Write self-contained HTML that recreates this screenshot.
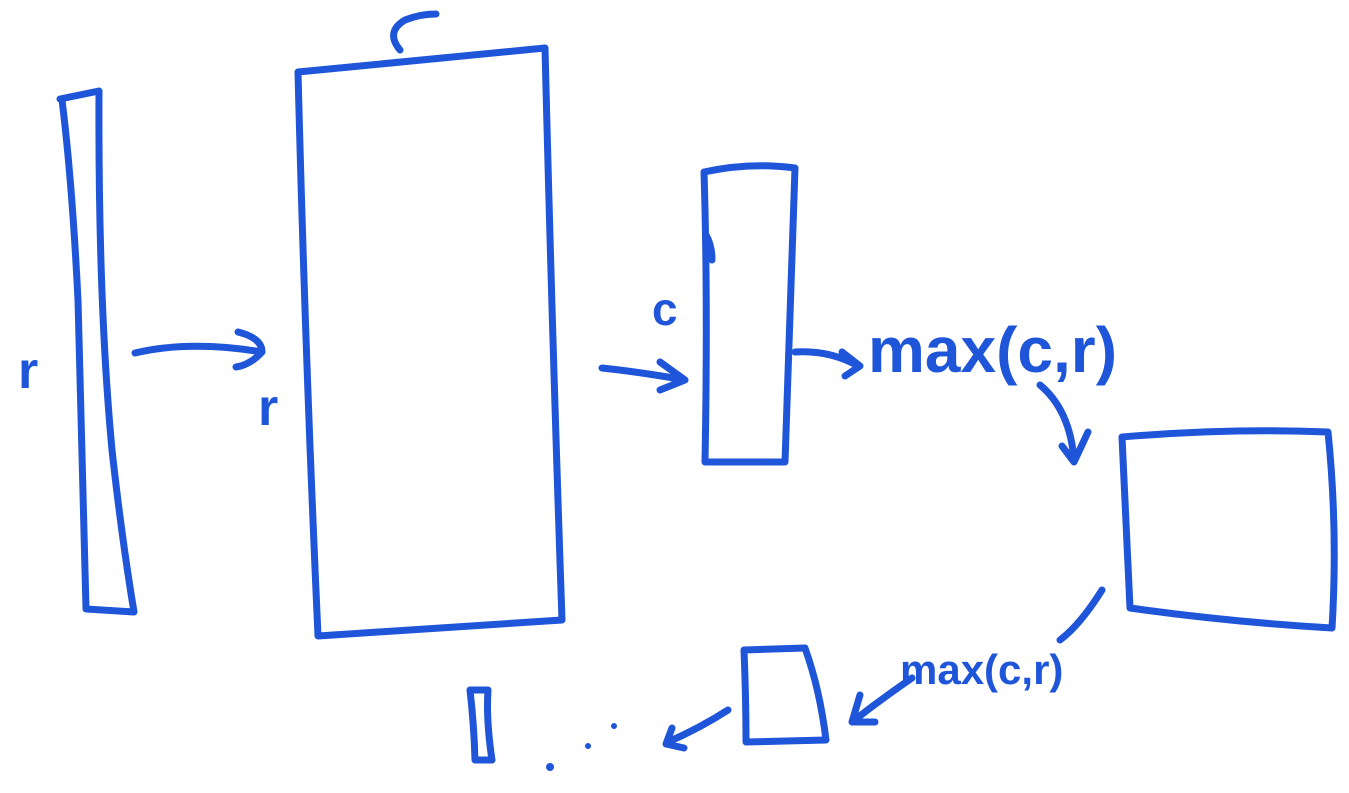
<!DOCTYPE html>
<html><head><meta charset="utf-8"><style>
html,body{margin:0;padding:0;background:#fff;width:1349px;height:793px;overflow:hidden}
svg{display:block}
path,line{fill:none;stroke:#1f55d9;stroke-width:7;stroke-linecap:round;stroke-linejoin:round}
text{fill:#1f55d9;font-family:"Liberation Sans",sans-serif;font-weight:bold}
</style></head><body>
<svg width="1349" height="793" viewBox="0 0 1349 793">
<g>
<path d="M60,99 L99,91 Q98,300 112,450 Q122,540 134,612 L86,609 Q82,450 78,300 Q72,180 62,100"/>
</g>
<text x="18" y="388" font-size="52">r</text>
<path d="M135,353 Q190,340 262,352 M238,332 Q262,338 262,352 Q250,365 236,367"/>
<g>
<path d="M298,72 Q420,60 545,48 Q552,330 562,620 Q440,628 318,636 Q305,350 298,72"/>
<path d="M400,50 Q385,32 405,20 Q420,14 436,14"/>
</g>
<text x="258" y="425" font-size="52">r</text>
<path d="M602,368 Q640,372 685,380 M660,362 L685,380 L660,390"/>
<g>
<path d="M704,172 Q750,162 795,168 Q790,310 785,462 L705,462 Q708,300 704,172 M706,235 Q712,245 712,260"/>
</g>
<text x="652" y="325" font-size="46">c</text>
<path d="M795,352 Q830,350 858,366 M842,352 L860,366 L845,376"/>
<text x="868" y="372" font-size="64">max(c,r)</text>
<path d="M1040,385 Q1070,410 1074,460 M1062,446 L1074,462 L1088,432"/>
<g>
<path d="M1122,437 Q1230,428 1328,432 Q1338,530 1332,628 Q1230,622 1130,608 Q1126,520 1122,437"/>
</g>
<path d="M1102,590 Q1080,625 1060,640 M912,678 Q880,700 852,722 M860,695 L852,722 L875,722"/>
<text x="900" y="684" font-size="42">max(c,r)</text>
<g>
<path d="M744,650 L805,648 Q820,690 826,740 L746,742 Q746,700 744,650"/>
</g>
<path d="M728,710 Q700,728 668,742 M672,728 L666,744 L684,748"/>
<g>
<circle cx="550" cy="767" r="4" fill="#1f55d9"/>
<circle cx="588" cy="746" r="3" fill="#1f55d9"/>
<circle cx="614" cy="726" r="3" fill="#1f55d9"/>
</g>
<path d="M470,690 L488,690 Q486,720 492,760 L475,760 Q474,725 470,690"/>
</svg>
</body></html>
